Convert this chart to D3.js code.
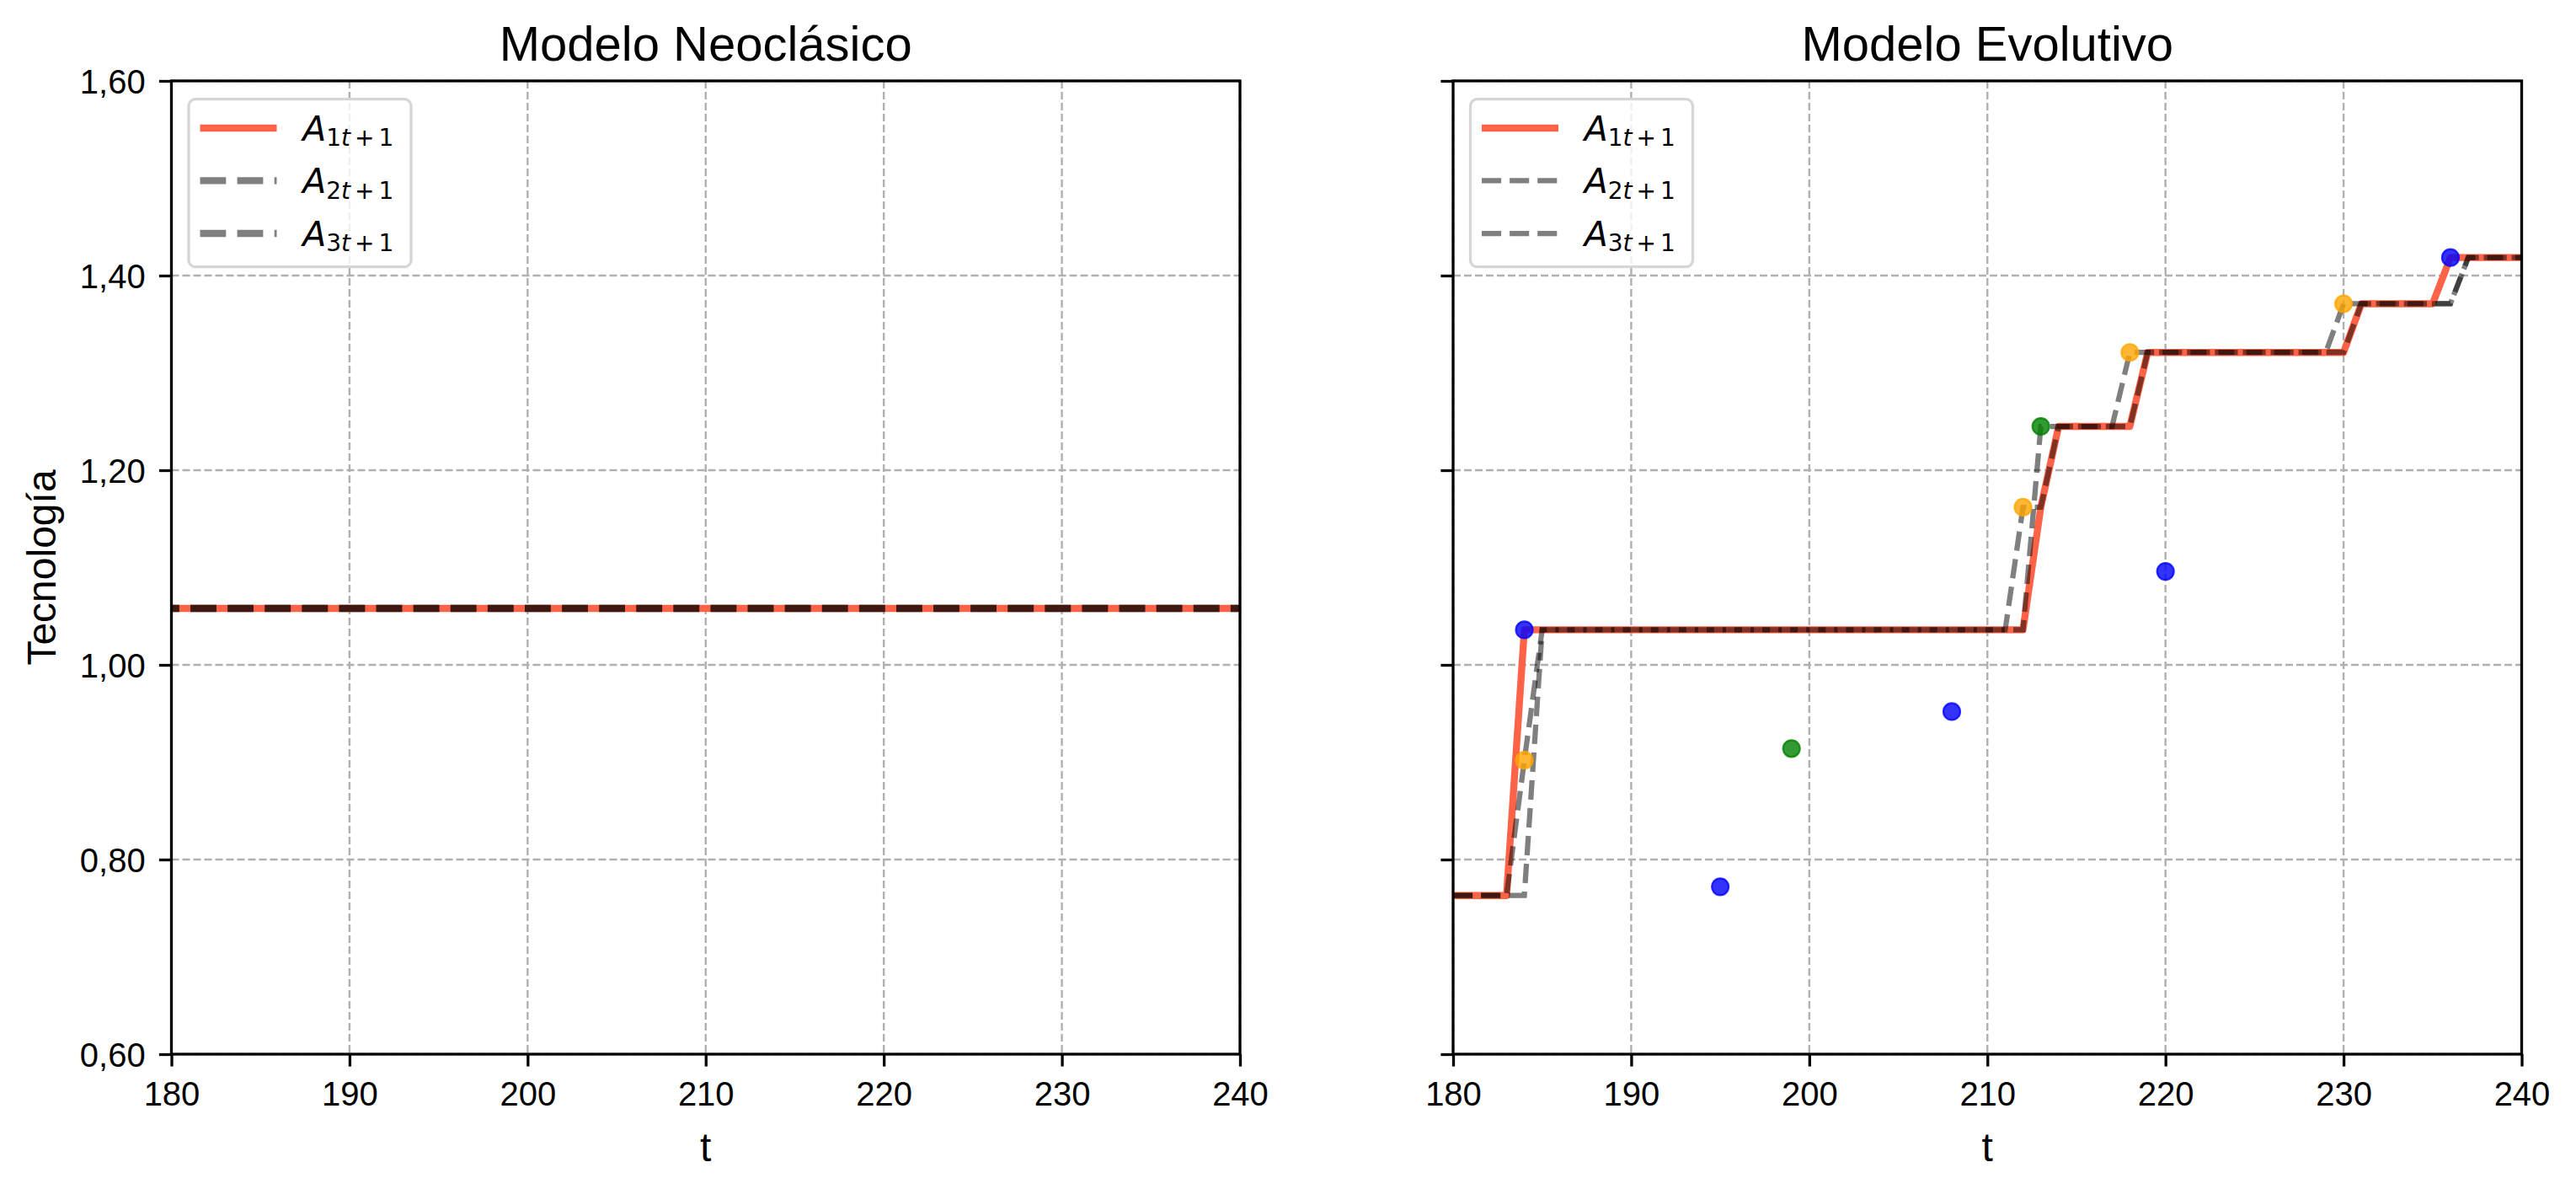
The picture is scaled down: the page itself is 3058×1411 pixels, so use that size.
<!DOCTYPE html>
<html>
<head>
<meta charset="utf-8">
<script src="https://cdn.jsdelivr.net/npm/d3@7"></script>
<style>
  body { margin: 0; background: #fff; }
  text { font-family: "Liberation Sans", Arial, sans-serif; fill: #000; }
  .math { font-family: "DejaVu Sans", sans-serif; }
</style>
</head>
<body>
<div id="chart"></div>
<script>
// ---- data ----
var tTicks = [180, 190, 200, 210, 220, 230, 240];
var yTicks = [0.6, 0.8, 1.0, 1.2, 1.4, 1.6];

// Modelo Neoclásico: all three firms share the same technology level
var neoT = [180, 240];
var neoA1 = [1.058, 1.058];
var neoA2 = [1.058, 1.058];
var neoA3 = [1.058, 1.058];

// Modelo Evolutivo: line vertices per firm
var evoT1 = [180, 183, 184, 212, 213, 214, 218, 219, 230, 231, 235, 236, 240];
var evoA1 = [0.763, 0.763, 1.036, 1.036, 1.162, 1.245, 1.245, 1.321, 1.321, 1.371, 1.371, 1.4185, 1.4185];
var evoT2 = [180, 183, 184, 185, 211, 212, 213, 214, 217, 218, 229, 230, 236, 237, 240];
var evoA2 = [0.763, 0.763, 0.902, 1.036, 1.036, 1.162, 1.162, 1.245, 1.245, 1.321, 1.321, 1.371, 1.371, 1.4185, 1.4185];
var evoT3 = [180, 184, 185, 212, 213, 218, 219, 230, 231, 236, 237, 240];
var evoA3 = [0.763, 0.763, 1.036, 1.036, 1.245, 1.245, 1.321, 1.321, 1.371, 1.371, 1.4185, 1.4185];

// innovation / imitation draws
var dotT = [184, 184, 195, 199, 208, 212, 213, 218, 220, 230, 236];
var dotA = [1.036, 0.902, 0.772, 0.914, 0.952, 1.162, 1.245, 1.321, 1.096, 1.371, 1.4185];
var dotFirm = [1, 2, 1, 3, 1, 2, 3, 2, 1, 2, 1];

var legendSubs = ["1", "2", "3"];

// ---- layout ----
var svgWidth = 3058, svgHeight = 1411;
var top_ = 96, bottom_ = 1251;
var panels = [
    {left: 203.5, right: 1472, title: "Modelo Neoclásico", ylabels: true,
     series: [[neoT, neoA1], [neoT, neoA2], [neoT, neoA3]], dashW: 8.33, dashArr: "30.8,13.3", dashOff: 21.5, dots: false},
    {left: 1725, right: 2993.5, title: "Modelo Evolutivo", ylabels: false,
     series: [[evoT1, evoA1], [evoT2, evoA2], [evoT3, evoA3]], dashW: 6.25, dashArr: "23.1,10", dashOff: 0, dots: true}
];
var firmColor = {1: "#0000ff", 2: "#ffa500", 3: "#008000"};

var svg = d3.select("#chart")
    .append("svg")
    .attr("width", svgWidth)
    .attr("height", svgHeight);

var yScale = d3.scaleLinear().domain([0.6, 1.6]).range([bottom_, top_]);
var fmt = function(d) { return d3.format(".2f")(d).replace(".", ","); };

panels.forEach(function(p, pi) {
    var x = d3.scaleLinear().domain([180, 240]).range([p.left, p.right]);
    var w = p.right - p.left, h = bottom_ - top_;

    svg.append("clipPath").attr("id", "clip" + pi)
        .append("rect").attr("x", p.left).attr("y", top_).attr("width", w).attr("height", h);

    // grid
    var grid = svg.append("g");
    grid.selectAll(".gx").data(tTicks).enter().append("line")
        .attr("x1", d => x(d)).attr("x2", d => x(d))
        .attr("y1", top_).attr("y2", bottom_);
    grid.selectAll(".gy").data(yTicks).enter().append("line")
        .attr("x1", p.left).attr("x2", p.right)
        .attr("y1", d => yScale(d)).attr("y2", d => yScale(d));
    grid.selectAll("line")
        .attr("stroke", "#b0b0b0")
        .attr("stroke-width", 2.4)
        .attr("stroke-dasharray", "9,4");

    // lines
    var plot = svg.append("g").attr("clip-path", "url(#clip" + pi + ")");
    var line = function(s) {
        return d3.line().x((d, i) => x(s[0][i])).y(d => yScale(d))(s[1]);
    };
    plot.append("path")
        .attr("d", line(p.series[0]))
        .attr("fill", "none")
        .attr("stroke", "#ff6347")
        .attr("stroke-width", 8.33)
        .attr("stroke-linejoin", "round");
    [1, 2].forEach(function(k) {
        plot.append("path")
            .attr("d", line(p.series[k]))
            .attr("fill", "none")
            .attr("stroke", "#000")
            .attr("stroke-opacity", 0.5)
            .attr("stroke-width", p.dashW)
            .attr("stroke-dasharray", p.dashArr)
            .attr("stroke-dashoffset", p.dashOff);
    });

    // scatter points
    if (p.dots) {
        plot.selectAll("circle").data(dotT).enter().append("circle")
            .attr("cx", d => x(d))
            .attr("cy", (d, i) => yScale(dotA[i]))
            .attr("r", 10)
            .attr("fill", (d, i) => firmColor[dotFirm[i]])
            .attr("fill-opacity", 0.8)
            .attr("stroke", (d, i) => firmColor[dotFirm[i]])
            .attr("stroke-opacity", 0.8)
            .attr("stroke-width", 2.2);
    }

    // axes
    var xAxis = d3.axisBottom(x).tickValues(tTicks).tickSize(14.6).tickSizeOuter(0).tickPadding(18);
    var gx = svg.append("g").attr("transform", `translate(0, ${bottom_})`).call(xAxis);
    var yAxis = d3.axisLeft(yScale).tickValues(yTicks).tickSize(14.6).tickSizeOuter(0).tickPadding(16.2)
        .tickFormat(p.ylabels ? fmt : "");
    var gy = svg.append("g").attr("transform", `translate(${p.left}, 0)`).call(yAxis);
    [gx, gy].forEach(function(g) {
        g.select(".domain").remove();
        g.selectAll(".tick line").attr("stroke", "#000").attr("stroke-width", 3.3);
        g.selectAll(".tick text")
            .attr("font-size", 40)
            .attr("font-family", "Liberation Sans, Arial, sans-serif")
            .attr("fill", "#000");
    });
    gy.selectAll(".tick text").attr("dy", "0.36em");

    // spines
    svg.append("rect")
        .attr("x", p.left).attr("y", top_).attr("width", w).attr("height", h)
        .attr("fill", "none").attr("stroke", "#000").attr("stroke-width", 3.3);

    // title and labels
    svg.append("text")
        .attr("x", (p.left + p.right) / 2).attr("y", 72)
        .attr("text-anchor", "middle").attr("font-size", 58)
        .text(p.title);
    svg.append("text")
        .attr("x", (p.left + p.right) / 2).attr("y", 1378)
        .attr("text-anchor", "middle").attr("font-size", 48)
        .text("t");
    if (p.ylabels) {
        svg.append("text")
            .attr("transform", `translate(66, ${(top_ + bottom_) / 2}) rotate(-90)`)
            .attr("text-anchor", "middle").attr("font-size", 48)
            .text("Tecnología");
    }

    // legend
    var lg = svg.append("g").attr("transform", `translate(${p.left}, ${top_})`);
    lg.append("rect")
        .attr("x", 20.5).attr("y", 21.7).attr("width", 264).attr("height", 199)
        .attr("rx", 8).attr("ry", 8)
        .attr("fill", "#fff").attr("fill-opacity", 0.8)
        .attr("stroke", "#d6d6d6").attr("stroke-width", 3.3);
    var rows = [56, 118.3, 181];
    legendSubs.forEach(function(s, k) {
        var ly = rows[k];
        var hl = lg.append("line")
            .attr("x1", 34).attr("x2", 125).attr("y1", ly).attr("y2", ly);
        if (k === 0) {
            hl.attr("stroke", "#ff6347").attr("stroke-width", 8.33);
        } else {
            hl.attr("stroke", "#000").attr("stroke-opacity", 0.5)
                .attr("stroke-width", p.dashW).attr("stroke-dasharray", p.dashArr);
        }
        var t = lg.append("text").attr("class", "math")
            .attr("x", 155.7).attr("y", ly + 14.7)
            .attr("font-size", 41);
        t.append("tspan").attr("font-style", "italic").text("A");
        var sub = t.append("tspan").attr("dy", 6.5).attr("font-size", 28);
        sub.text(s);
        t.append("tspan").attr("font-size", 28).attr("font-style", "italic").text("t");
        t.append("tspan").attr("font-size", 28).attr("dx", 5).text("+");
        t.append("tspan").attr("font-size", 28).attr("dx", 5).text("1");
    });
});
</script>
</body>
</html>
